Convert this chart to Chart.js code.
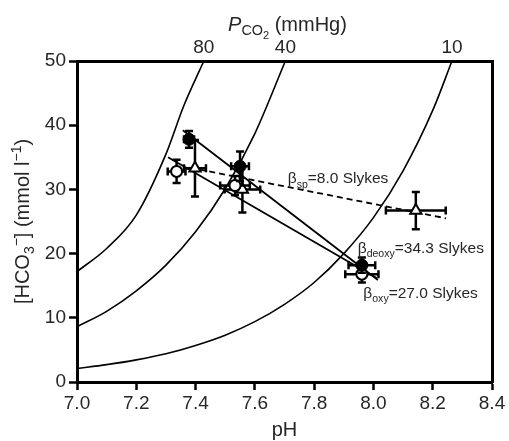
<!DOCTYPE html>
<html>
<head>
<meta charset="utf-8">
<script src="https://cdn.jsdelivr.net/npm/chart.js@4.4.1/dist/chart.umd.min.js"></script>
<style>
html,body{margin:0;padding:0;background:#fff;}
#wrap{width:509px;height:441px;}
</style>
</head>
<body>
<div id="wrap"><canvas id="c" width="509" height="441"></canvas></div>
<script>
// ---- data ----
// PCO2 isopleths (pH, HCO3)
const iso80_pH   = [7.0, 7.1, 7.2, 7.3, 7.36, 7.428];
const iso80_hco3 = [17.2, 20.8, 26.0, 35.5, 43.0, 50.0];
const iso40_pH   = [7.0, 7.1, 7.2, 7.3, 7.4, 7.5, 7.6, 7.703];
const iso40_hco3 = [8.6, 11.0, 14.2, 18.2, 23.4, 30.1, 38.7, 50.0];
const iso10_pH   = [7.0, 7.1, 7.2, 7.3, 7.4, 7.5, 7.6, 7.7, 7.8, 7.9, 8.0, 8.1, 8.2, 8.265];
const iso10_hco3 = [2.1, 2.7, 3.45, 4.4, 5.7, 7.3, 9.4, 12.1, 15.5, 20.0, 25.6, 32.9, 42.3, 50.0];

// top axis (PCO2) tick positions and labels
const pco2TickPH     = [7.428, 7.703, 8.265];
const pco2TickLabels = ['80', '40', '10'];

// deoxygenated (filled circles)
const deoxy_pH      = [7.378, 7.550, 7.961];
const deoxy_hco3    = [37.8, 33.6, 18.2];
const deoxy_pHerr   = [0.017, 0.030, 0.045];
const deoxy_hco3err = [1.3, 2.3, 1.2];

// oxygenated (open circles)
const oxy_pH      = [7.336, 7.533, 7.961];
const oxy_hco3    = [32.8, 30.6, 16.8];
const oxy_pHerr   = [0.030, 0.050, 0.056];
const oxy_hco3err = [1.8, 1.5, 1.3];

// separated plasma (open triangles)
const sp_pH      = [7.398, 7.558, 8.143];
const sp_hco3    = [33.3, 30.0, 26.7];
const sp_pHerr   = [0.037, 0.060, 0.101];
const sp_hco3err = [4.4, 3.6, 2.9];

// buffer lines
const deoxyFit_pH = [7.357, 8.015], deoxyFit_hco3 = [39.2, 15.9];
const oxyFit_pH   = [7.307, 8.011], oxyFit_hco3   = [35.0, 16.2];
const spFit_pH    = [7.380, 8.245], spFit_hco3    = [33.4, 25.5];

// x ticks
const xTicks = [7.0, 7.2, 7.4, 7.6, 7.8, 8.0, 8.2, 8.4];
const yTicks = [0, 10, 20, 30, 40, 50];

// ---- helpers ----
const FF = '"Liberation Sans", Arial, Helvetica, sans-serif';
const TXT = '#262626';
const pts = (xs, ys) => xs.map((x, i) => ({x: x, y: ys[i]}));

function segFont(seg, base) {
  const size = base * (seg.scale || 1);
  return (seg.italic ? 'italic ' : '') + size + 'px ' + FF;
}
function richWidth(ctx, segs, base) {
  let w = 0;
  segs.forEach(s => { ctx.font = segFont(s, base); w += ctx.measureText(s.t).width; });
  return w;
}
// draw rich text with baseline at (x,y), align 'left' or 'center', optional rotation
function drawRich(ctx, segs, base, x, y, align, rot) {
  ctx.save();
  ctx.translate(x, y);
  if (rot) ctx.rotate(rot);
  const w = richWidth(ctx, segs, base);
  let cx = align === 'center' ? -w / 2 : 0;
  ctx.fillStyle = TXT;
  ctx.textBaseline = 'alphabetic';
  ctx.textAlign = 'left';
  segs.forEach(s => {
    ctx.font = segFont(s, base);
    ctx.fillText(s.t, cx, (s.dy || 0) * base);
    cx += ctx.measureText(s.t).width;
  });
  ctx.restore();
}

const annotations = [
  {pH: 7.711, hco3: 31.8, segs: [{t:'β'}, {t:'sp', scale:0.68, dy:0.28}, {t:'=8.0 Slykes'}]},
  {pH: 7.947, hco3: 21.0, segs: [{t:'β'}, {t:'deoxy', scale:0.68, dy:0.28}, {t:'=34.3 Slykes'}]},
  {pH: 7.966, hco3: 14.0, segs: [{t:'β'}, {t:'oxy', scale:0.68, dy:0.28}, {t:'=27.0 Slykes'}]}
];

const richPlugin = {
  id: 'rich',
  beforeDatasetDraw(chart, args) {
    const ds = chart.data.datasets[args.index];
    if (!ds.errX) return;
    const xs = chart.scales.x, ys = chart.scales.y, ctx = chart.ctx;
    ctx.save();
    ctx.strokeStyle = '#000';
    ctx.lineWidth = 2.5;
    const cap = 4;
    ds.data.forEach((p, i) => {
      const px = xs.getPixelForValue(p.x), py = ys.getPixelForValue(p.y);
      const x1 = xs.getPixelForValue(p.x - ds.errX[i]), x2 = xs.getPixelForValue(p.x + ds.errX[i]);
      const y1 = ys.getPixelForValue(p.y - ds.errY[i]), y2 = ys.getPixelForValue(p.y + ds.errY[i]);
      ctx.beginPath();
      ctx.moveTo(x1, py); ctx.lineTo(x2, py);
      ctx.moveTo(x1, py - cap); ctx.lineTo(x1, py + cap);
      ctx.moveTo(x2, py - cap); ctx.lineTo(x2, py + cap);
      ctx.moveTo(px, y1); ctx.lineTo(px, y2);
      ctx.moveTo(px - cap, y1); ctx.lineTo(px + cap, y1);
      ctx.moveTo(px - cap, y2); ctx.lineTo(px + cap, y2);
      ctx.stroke();
    });
    ctx.restore();
  },
  afterDraw(chart) {
    const ctx = chart.ctx, a = chart.chartArea;
    const xs = chart.scales.x, ys = chart.scales.y;
    const cxm = (a.left + a.right) / 2;
    // bottom title
    drawRich(ctx, [{t:'pH'}], 20, cxm, 436, 'center');
    // top title
    drawRich(ctx, [{t:'P', italic:true}, {t:'CO', scale:0.72, dy:0.22}, {t:'2', scale:0.55, dy:0.42}, {t:' (mmHg)'}], 20, cxm + 3, 31, 'center');
    // left title (rotated)
    drawRich(ctx, [{t:'[HCO'}, {t:'3', scale:0.7, dy:0.25}, {t:'−', scale:0.7, dy:-0.42}, {t:'] (mmol l'}, {t:'−1', scale:0.7, dy:-0.42}, {t:')'}], 20, 29, (a.top + a.bottom) / 2, 'center', -Math.PI / 2);
    // annotations
    annotations.forEach(an => {
      const x = xs.getPixelForValue(an.pH), y = ys.getPixelForValue(an.hco3);
      drawRich(ctx, an.segs, 15.5, x, y + 5.5, 'left');
    });
  }
};

const curveDS = (xs, ys) => ({
  data: pts(xs, ys), showLine: true, borderColor: '#000', borderWidth: 1.6,
  pointRadius: 0, pointHoverRadius: 0, tension: 0.4, cubicInterpolationMode: 'monotone', fill: false, order: 10
});
const fitDS = (xs, ys, dash) => ({
  data: pts(xs, ys), showLine: true, borderColor: '#000', borderWidth: 1.8,
  borderDash: dash || [], pointRadius: 0, pointHoverRadius: 0, fill: false, order: 8
});

const axisCommon = {
  border: {display: true, color: '#000', width: 3},
  grid: {display: true, drawOnChartArea: false, drawTicks: true, tickLength: 8, tickWidth: 2.5, tickColor: '#000'},
};

new Chart(document.getElementById('c'), {
  type: 'scatter',
  data: {
    datasets: [
      curveDS(iso80_pH, iso80_hco3),
      curveDS(iso40_pH, iso40_hco3),
      curveDS(iso10_pH, iso10_hco3),
      fitDS(deoxyFit_pH, deoxyFit_hco3),
      fitDS(oxyFit_pH, oxyFit_hco3),
      fitDS(spFit_pH, spFit_hco3, [6, 4]),
      {data: pts(sp_pH, sp_hco3), errX: sp_pHerr, errY: sp_hco3err, pointStyle: 'triangle', pointRadius: 6.5,
       backgroundColor: '#fff', borderColor: '#000', borderWidth: 2, order: 3},
      {data: pts(oxy_pH, oxy_hco3), errX: oxy_pHerr, errY: oxy_hco3err, pointStyle: 'circle', pointRadius: 5.5,
       backgroundColor: '#fff', borderColor: '#000', borderWidth: 2, order: 2},
      {data: pts(deoxy_pH, deoxy_hco3), errX: deoxy_pHerr, errY: deoxy_hco3err, pointStyle: 'circle', pointRadius: 6,
       backgroundColor: '#000', borderColor: '#000', borderWidth: 1, order: 1}
    ]
  },
  options: {
    responsive: false,
    devicePixelRatio: 1,
    animation: false,
    events: [],
    layout: {padding: 0},
    plugins: {legend: {display: false}, tooltip: {enabled: false}},
    scales: {
      x: Object.assign({}, axisCommon, {
        type: 'linear', position: 'bottom', min: 7.0, max: 8.4,
        afterBuildTicks: s => { s.ticks = xTicks.map(v => ({value: v})); },
        afterFit: s => { s.height = 59; },
        ticks: {color: TXT, font: {size: 19, family: FF}, padding: 2, autoSkip: false, maxRotation: 0,
                callback: v => Number(v).toFixed(1)}
      }),
      x2: {
        type: 'linear', position: 'top', min: 7.0, max: 8.4,
        border: {display: true, color: '#000', width: 3},
        grid: {display: true, drawOnChartArea: false, drawTicks: false},
        afterBuildTicks: s => { s.ticks = pco2TickPH.map(v => ({value: v})); },
        afterFit: s => { s.height = 61; },
        ticks: {color: TXT, font: {size: 19, family: FF}, padding: 2, autoSkip: false, maxRotation: 0,
                callback: (v, i) => pco2TickLabels[i]}
      },
      y: Object.assign({}, axisCommon, {
        type: 'linear', position: 'left', min: 0, max: 50,
        afterBuildTicks: s => { s.ticks = yTicks.map(v => ({value: v})); },
        afterFit: s => { s.width = 77; },
        ticks: {color: TXT, font: {size: 19, family: FF}, padding: 3, autoSkip: false}
      }),
      y2: {
        type: 'linear', position: 'right', min: 0, max: 50,
        border: {display: true, color: '#000', width: 3},
        grid: {display: false},
        ticks: {display: false},
        afterFit: s => { s.width = 17; }
      }
    }
  },
  plugins: [richPlugin]
});
</script>
</body>
</html>
